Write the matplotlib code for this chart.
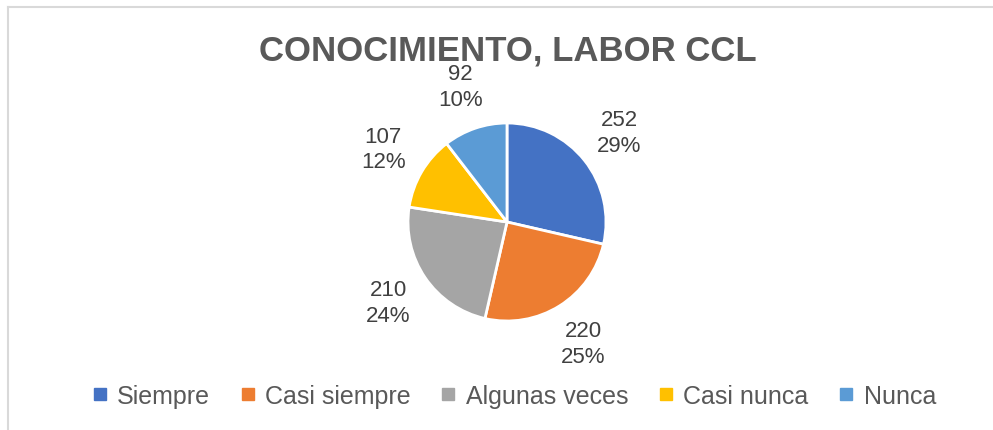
import matplotlib
matplotlib.use('Agg')
import matplotlib.pyplot as plt
from matplotlib.lines import Line2D

FONT = ['Liberation Sans', 'DejaVu Sans']
plt.rcParams['font.family'] = FONT

categories = ['Siempre', 'Casi siempre', 'Algunas veces', 'Casi nunca', 'Nunca']
counts = [252, 220, 210, 107, 92]
colors = ['#4472C4', '#ED7D31', '#A5A5A5', '#FFC000', '#5B9BD5']
title = 'CONOCIMIENTO, LABOR CCL'

W, H = 993, 431
fig = plt.figure(figsize=(W / 100, H / 100), dpi=100)

total = sum(counts)
labels = ['%d\n%d%%' % (c, round(100.0 * c / total)) for c in counts]

# pie centre and radius in pixels
cx, cy, r = 507, 223, 99
ax = fig.add_axes([(cx - r) / W, 1 - (cy + r) / H, 2 * r / W, 2 * r / H])
ax.pie(counts, colors=colors, labels=labels, startangle=90, counterclock=False,
       labeldistance=1.45,
       wedgeprops=dict(edgecolor='white', linewidth=2),
       textprops=dict(ha='center', va='center', fontsize=16, color='#404040',
                      linespacing=1.3))
ax.set_xlim(-1, 1)
ax.set_ylim(-1, 1)

fig.text(508 / W, 1 - 51 / H, title, ha='center', va='center',
         fontsize=25, fontweight='bold', color='#595959')

handles = [Line2D([], [], marker='s', linestyle='none', markersize=8,
                  markerfacecolor=c, markeredgecolor=c) for c in colors]
fig.legend(handles, categories, loc='center', bbox_to_anchor=(514 / W, 1 - 397 / H),
           ncol=5, frameon=False, fontsize=18, handlelength=0.6, handletextpad=0.4,
           columnspacing=1.2, labelcolor='#595959')

# chart area border (only left and top edges visible)
fig.add_artist(Line2D([7.5 / W, 7.5 / W], [0, 1 - 8 / H], color='#d9d9d9', lw=1.5))
fig.add_artist(Line2D([7.5 / W, 1], [1 - 8 / H, 1 - 8 / H], color='#d9d9d9', lw=1.5))

fig.savefig('out.png', dpi=100, facecolor='white')
